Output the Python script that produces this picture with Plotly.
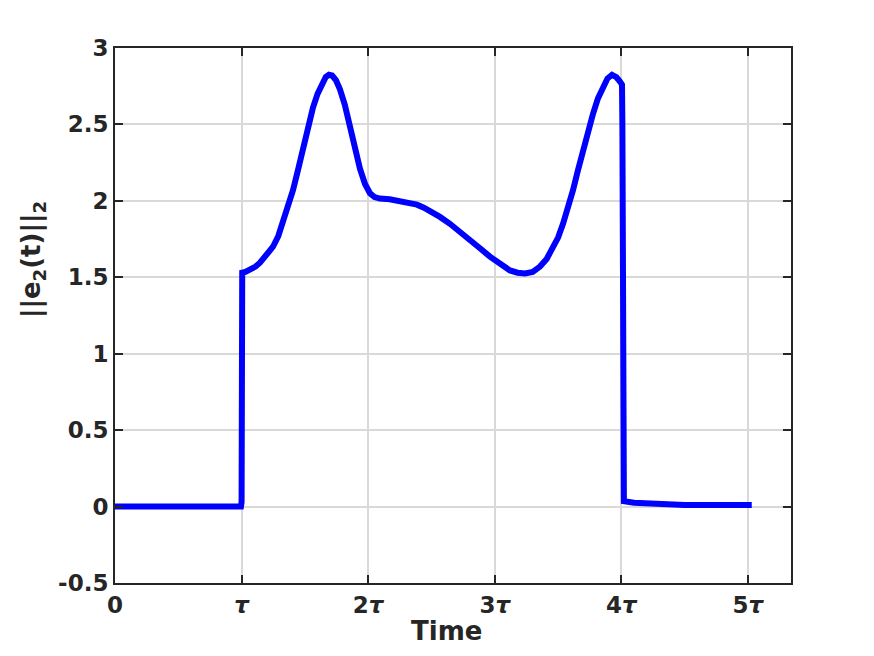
import plotly.graph_objects as go

# time in units of tau, error norm values
time_tau = [
    0.0, 0.5, 0.995, 1.0, 1.005, 1.03, 1.07, 1.11, 1.145, 1.19, 1.248, 1.29,
    1.327, 1.367, 1.406, 1.445, 1.485, 1.525, 1.564, 1.60, 1.635, 1.665, 1.69,
    1.715, 1.745, 1.777, 1.815, 1.856, 1.895, 1.935, 1.975, 2.014, 2.05, 2.093,
    2.17, 2.251, 2.32, 2.385, 2.44, 2.488, 2.567, 2.646, 2.725, 2.804, 2.883,
    2.962, 3.041, 3.12, 3.18, 3.239, 3.30, 3.357, 3.41, 3.46, 3.50, 3.539,
    3.578, 3.618, 3.657, 3.697, 3.737, 3.776, 3.815, 3.855, 3.89, 3.926, 3.96,
    3.989, 4.005, 4.008, 4.012, 4.015, 4.02, 4.1, 4.2, 4.3, 4.5, 4.7, 4.9, 5.03,
]
err_norm = [
    0.0, 0.0, 0.0, 0.03, 1.53, 1.535, 1.55, 1.57, 1.595, 1.635, 1.70, 1.77,
    1.86, 1.96, 2.07, 2.20, 2.35, 2.49, 2.61, 2.70, 2.77, 2.81, 2.825,
    2.82, 2.79, 2.73, 2.63, 2.49, 2.34, 2.21, 2.11, 2.05, 2.025, 2.015,
    2.01, 2.00, 1.99, 1.975, 1.955, 1.935, 1.895, 1.85, 1.80, 1.745, 1.69,
    1.635, 1.585, 1.545, 1.53, 1.525, 1.535, 1.57, 1.62, 1.69, 1.76, 1.85,
    1.95, 2.07, 2.20, 2.33, 2.45, 2.57, 2.67, 2.75, 2.80, 2.825, 2.81,
    2.78, 2.76, 2.5, 0.65, 0.04, 0.035, 0.025, 0.02, 0.015, 0.01, 0.01, 0.01, 0.01,
]

x_ticks = [0, 1, 2, 3, 4, 5]
x_tick_text = ["0", "<i>τ</i>", "2<i>τ</i>", "3<i>τ</i>", "4<i>τ</i>", "5<i>τ</i>"]
y_ticks = [-0.5, 0, 0.5, 1, 1.5, 2, 2.5, 3]
y_tick_text = ["-0.5", "0", "0.5", "1", "1.5", "2", "2.5", "3"]

INK = "#262626"
GRID = "#d9d9d9"

fig = go.Figure(
    go.Scatter(
        x=time_tau,
        y=err_norm,
        mode="lines",
        line=dict(color="#0000ff", width=6),
        showlegend=False,
    )
)

axis_common = dict(
    showline=True,
    linecolor=INK,
    linewidth=2,
    mirror="ticks",
    ticks="inside",
    ticklen=8,
    tickwidth=2,
    tickcolor=INK,
    showgrid=True,
    gridcolor=GRID,
    gridwidth=1.5,
    zeroline=False,
    tickfont=dict(family="DejaVu Sans", size=23, color=INK, weight="bold"),
)

fig.update_layout(
    width=874,
    height=656,
    paper_bgcolor="white",
    plot_bgcolor="white",
    margin=dict(l=107, r=91, t=40, b=81),
    font=dict(family="DejaVu Sans", color=INK),
    xaxis=dict(range=[0, 5.34], tickvals=x_ticks, ticktext=x_tick_text, **axis_common),
    yaxis=dict(range=[-0.5, 3], tickvals=y_ticks, ticktext=y_tick_text, **axis_common),
    annotations=[
        dict(
            text="<b>Time</b>", xref="paper", yref="paper", x=0.490, y=-0.0897,
            xanchor="center", yanchor="middle",
            showarrow=False, font=dict(size=26, color=INK),
        ),
        dict(
            text="<b>||e<sub>2</sub>(t)||<sub>2</sub></b>", xref="paper", yref="paper",
            x=-0.121, y=0.604, xanchor="center", yanchor="middle", textangle=-90,
            showarrow=False, font=dict(size=26, color=INK),
        ),
    ],
)

fig.write_html("out.html")
